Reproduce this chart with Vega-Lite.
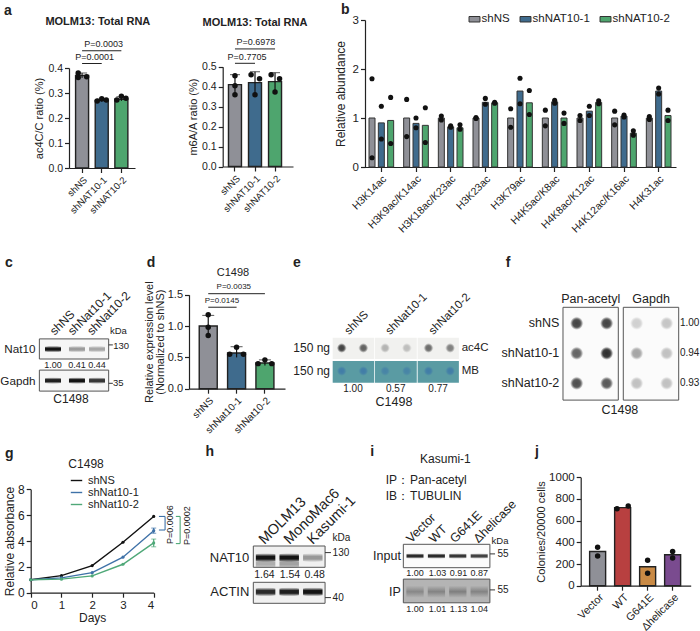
{"$schema":"https://vega.github.io/schema/vega-lite/v6.json","width":700,"height":631,"padding":0,"autosize":{"type":"none"},"background":"white",
"config":{"view":{"stroke":null},"font":"Liberation Sans","axis":{"grid":false,"domainColor":"#222","tickColor":"#222","labelColor":"#222","titleColor":"#222","titleFontWeight":"normal","domainWidth":1.2,"tickWidth":1.2,"tickSize":4.5,"labelPadding":2,"titlePadding":3},"text":{"color":"#222"}},
"resolve":{"scale":{"x":"independent","y":"independent","xOffset":"independent","fill":"independent","color":"independent"},"axis":{"x":"independent","y":"independent"},"legend":{"fill":"independent","color":"independent"}},
"layer":[
{"data":{"values":[
{"k":"bar","cat":"shNS","v":0.37},{"k":"bar","cat":"shNAT10-1","v":0.27},{"k":"bar","cat":"shNAT10-2","v":0.275},
{"k":"err","cat":"shNS","v":0.36,"v2":0.38},{"k":"err","cat":"shNAT10-1","v":0.265,"v2":0.275},{"k":"err","cat":"shNAT10-2","v":0.268,"v2":0.285},
{"k":"dot","cat":"shNS","v":0.38,"j":-0.6},{"k":"dot","cat":"shNS","v":0.362,"j":-0.6},{"k":"dot","cat":"shNS","v":0.365,"j":0.7},
{"k":"dot","cat":"shNAT10-1","v":0.268,"j":-0.7},{"k":"dot","cat":"shNAT10-1","v":0.277,"j":0},{"k":"dot","cat":"shNAT10-1","v":0.272,"j":0.7},
{"k":"dot","cat":"shNAT10-2","v":0.272,"j":-0.7},{"k":"dot","cat":"shNAT10-2","v":0.287,"j":0},{"k":"dot","cat":"shNAT10-2","v":0.279,"j":0.7},
{"k":"br","cat":"shNS","cat2":"shNAT10-1","v":0.418},{"k":"br","cat":"shNS","cat2":"shNAT10-2","v":0.469},
{"k":"p","cat":"shNAT10-1","j":-1.08,"v":0.444,"t":"P=0.0001"},{"k":"p","cat":"shNAT10-1","j":0.3,"v":0.496,"t":"P=0.0003"},
{"k":"title","cat":"shNAT10-1","j":-0.6,"v":0.584,"t":"MOLM13: Total RNA"},{"k":"let","cat":"shNS","j":-11.4,"v":0.63,"t":"a"}]},
"encoding":{"x":{"field":"cat","type":"nominal","sort":null,"title":null,"scale":{"domain":["shNS","shNAT10-1","shNAT10-2"],"range":[69,135],"paddingInner":0.34,"paddingOuter":0.35,"align":0.48},"axis":{"orient":"bottom","labelAngle":-45,"offset":-463,"labelFontSize":9.5}},
"y":{"field":"v","type":"quantitative","title":"ac4C/C ratio (%)","scale":{"domain":[0,0.4],"range":[168,68]},"axis":{"orient":"left","offset":-69,"values":[0,0.1,0.2,0.3,0.4],"format":".1f","labelFontSize":10.5,"titleFontSize":11}}},
"layer":[
{"transform":[{"filter":"datum.k=='bar'"}],"mark":{"type":"bar","width":13,"stroke":"#222","strokeWidth":1.4},"encoding":{"fill":{"field":"cat","type":"nominal","scale":{"domain":["shNS","shNAT10-1","shNAT10-2"],"range":["#8f9097","#3f6b8d","#4ea56e"]},"legend":null}}},
{"transform":[{"filter":"datum.k=='err'"}],"mark":{"type":"rule","color":"#111"},"encoding":{"y2":{"field":"v2"}}},
{"transform":[{"filter":"datum.k=='err'"}],"mark":{"type":"tick","orient":"horizontal","width":10,"color":"#111"},"encoding":{"y":{"field":"v2","type":"quantitative"}}},
{"transform":[{"filter":"datum.k=='dot'"}],"mark":{"type":"point","filled":true,"color":"#111","opacity":1,"size":30},"encoding":{"xOffset":{"field":"j","type":"quantitative","scale":{"domain":[-1,1],"range":[0,13]}}}},
{"transform":[{"filter":"datum.k=='br'"}],"mark":{"type":"rule","color":"#222","strokeWidth":1},"encoding":{"x2":{"field":"cat2"}}},
{"transform":[{"filter":"datum.k=='p'"}],"mark":{"type":"text","fontSize":9},"encoding":{"text":{"field":"t"},"xOffset":{"field":"j","type":"quantitative","scale":{"domain":[-1,1],"range":[0,13]}}}},
{"transform":[{"filter":"datum.k=='title'"}],"mark":{"type":"text","fontSize":11,"fontWeight":"bold"},"encoding":{"text":{"field":"t"},"xOffset":{"field":"j","type":"quantitative","scale":{"domain":[-1,1],"range":[0,13]}}}},
{"transform":[{"filter":"datum.k=='let'"}],"mark":{"type":"text","fontSize":14,"fontWeight":"bold"},"encoding":{"text":{"field":"t"},"xOffset":{"field":"j","type":"quantitative","scale":{"domain":[-1,1],"range":[0,13]}}}}
]},
{"data":{"values":[
{"k":"bar","cat":"shNS","v":0.41},{"k":"bar","cat":"shNAT10-1","v":0.42},{"k":"bar","cat":"shNAT10-2","v":0.425},
{"k":"err","cat":"shNS","v":0.36,"v2":0.46},{"k":"err","cat":"shNAT10-1","v":0.365,"v2":0.475},{"k":"err","cat":"shNAT10-2","v":0.375,"v2":0.47},
{"k":"dot","cat":"shNS","v":0.455,"j":0},{"k":"dot","cat":"shNS","v":0.405,"j":0},{"k":"dot","cat":"shNS","v":0.36,"j":0},
{"k":"dot","cat":"shNAT10-1","v":0.46,"j":-0.6},{"k":"dot","cat":"shNAT10-1","v":0.44,"j":0.7},{"k":"dot","cat":"shNAT10-1","v":0.36,"j":0},
{"k":"dot","cat":"shNAT10-2","v":0.46,"j":-0.6},{"k":"dot","cat":"shNAT10-2","v":0.44,"j":0.7},{"k":"dot","cat":"shNAT10-2","v":0.373,"j":0},
{"k":"br","cat":"shNS","cat2":"shNAT10-1","v":0.517},{"k":"br","cat":"shNS","cat2":"shNAT10-2","v":0.589},
{"k":"p","cat":"shNAT10-1","j":-1.23,"v":0.549,"t":"P=0.7705"},{"k":"p","cat":"shNAT10-1","j":0.15,"v":0.622,"t":"P=0.6978"},
{"k":"title","cat":"shNAT10-1","j":0,"v":0.719,"t":"MOLM13: Total RNA"}]},
"encoding":{"x":{"field":"cat","type":"nominal","sort":null,"title":null,"scale":{"domain":["shNS","shNAT10-1","shNAT10-2"],"range":[222.7,293],"paddingInner":0.35,"paddingOuter":0.43,"align":0.335},"axis":{"orient":"bottom","labelAngle":-45,"offset":-464.5,"labelFontSize":9.5}},
"y":{"field":"v","type":"quantitative","title":"m6A/A ratio (%)","scale":{"domain":[0,0.5],"range":[166.5,66.7]},"axis":{"orient":"left","offset":-222.7,"values":[0,0.1,0.2,0.3,0.4,0.5],"format":".1f","labelFontSize":10.5,"titleFontSize":11}}},
"layer":[
{"transform":[{"filter":"datum.k=='bar'"}],"mark":{"type":"bar","width":13,"stroke":"#222","strokeWidth":1.4},"encoding":{"fill":{"field":"cat","type":"nominal","scale":{"domain":["shNS","shNAT10-1","shNAT10-2"],"range":["#8f9097","#3f6b8d","#4ea56e"]},"legend":null}}},
{"transform":[{"filter":"datum.k=='err'"}],"mark":{"type":"rule","color":"#111","strokeWidth":1.2},"encoding":{"y2":{"field":"v2"}}},
{"transform":[{"filter":"datum.k=='err'"}],"mark":{"type":"tick","orient":"horizontal","width":10,"color":"#111"},"encoding":{"y":{"field":"v2","type":"quantitative"}}},
{"transform":[{"filter":"datum.k=='dot'"}],"mark":{"type":"point","filled":true,"color":"#111","opacity":1,"size":30},"encoding":{"xOffset":{"field":"j","type":"quantitative","scale":{"domain":[-1,1],"range":[0,13]}}}},
{"transform":[{"filter":"datum.k=='br'"}],"mark":{"type":"rule","color":"#222","strokeWidth":1},"encoding":{"x2":{"field":"cat2"}}},
{"transform":[{"filter":"datum.k=='p'"}],"mark":{"type":"text","fontSize":9},"encoding":{"text":{"field":"t"},"xOffset":{"field":"j","type":"quantitative","scale":{"domain":[-1,1],"range":[0,13]}}}},
{"transform":[{"filter":"datum.k=='title'"}],"mark":{"type":"text","fontSize":11,"fontWeight":"bold"},"encoding":{"text":{"field":"t"},"xOffset":{"field":"j","type":"quantitative","scale":{"domain":[-1,1],"range":[0,13]}}}}
]},
{"data":{"values":[
{"k":"bar","g":"H3K14ac","s":"shNS","v":1.0},{"k":"bar","g":"H3K14ac","s":"shNAT10-1","v":0.9},{"k":"bar","g":"H3K14ac","s":"shNAT10-2","v":0.95},
{"k":"bar","g":"H3K9ac/K14ac","s":"shNS","v":1.0},{"k":"bar","g":"H3K9ac/K14ac","s":"shNAT10-1","v":0.89},{"k":"bar","g":"H3K9ac/K14ac","s":"shNAT10-2","v":0.85},
{"k":"bar","g":"H3K18ac/K23ac","s":"shNS","v":1.0},{"k":"bar","g":"H3K18ac/K23ac","s":"shNAT10-1","v":0.82},{"k":"bar","g":"H3K18ac/K23ac","s":"shNAT10-2","v":0.8},
{"k":"bar","g":"H3K23ac","s":"shNS","v":1.0},{"k":"bar","g":"H3K23ac","s":"shNAT10-1","v":1.32},{"k":"bar","g":"H3K23ac","s":"shNAT10-2","v":1.31},
{"k":"bar","g":"H3K79ac","s":"shNS","v":1.0},{"k":"bar","g":"H3K79ac","s":"shNAT10-1","v":1.55},{"k":"bar","g":"H3K79ac","s":"shNAT10-2","v":1.31},
{"k":"bar","g":"H4K5ac/K8ac","s":"shNS","v":1.0},{"k":"bar","g":"H4K5ac/K8ac","s":"shNAT10-1","v":1.33},{"k":"bar","g":"H4K5ac/K8ac","s":"shNAT10-2","v":1.0},
{"k":"bar","g":"H4K8ac/K12ac","s":"shNS","v":1.0},{"k":"bar","g":"H4K8ac/K12ac","s":"shNAT10-1","v":1.14},{"k":"bar","g":"H4K8ac/K12ac","s":"shNAT10-2","v":1.32},
{"k":"bar","g":"H4K12ac/K16ac","s":"shNS","v":1.0},{"k":"bar","g":"H4K12ac/K16ac","s":"shNAT10-1","v":1.04},{"k":"bar","g":"H4K12ac/K16ac","s":"shNAT10-2","v":0.69},
{"k":"bar","g":"H4K31ac","s":"shNS","v":1.0},{"k":"bar","g":"H4K31ac","s":"shNAT10-1","v":1.55},{"k":"bar","g":"H4K31ac","s":"shNAT10-2","v":1.05},
{"k":"dot","g":"H3K14ac","s":"shNS","v":1.8},{"k":"dot","g":"H3K14ac","s":"shNS","v":0.19},{"k":"dot","g":"H3K14ac","s":"shNAT10-1","v":1.24},{"k":"dot","g":"H3K14ac","s":"shNAT10-1","v":0.57},{"k":"dot","g":"H3K14ac","s":"shNAT10-2","v":1.42},{"k":"dot","g":"H3K14ac","s":"shNAT10-2","v":0.48},
{"k":"dot","g":"H3K9ac/K14ac","s":"shNS","v":1.38},{"k":"dot","g":"H3K9ac/K14ac","s":"shNS","v":0.62},{"k":"dot","g":"H3K9ac/K14ac","s":"shNAT10-1","v":1.0},{"k":"dot","g":"H3K9ac/K14ac","s":"shNAT10-1","v":0.8},{"k":"dot","g":"H3K9ac/K14ac","s":"shNAT10-2","v":1.21},{"k":"dot","g":"H3K9ac/K14ac","s":"shNAT10-2","v":0.5},
{"k":"dot","g":"H3K18ac/K23ac","s":"shNS","v":1.04},{"k":"dot","g":"H3K18ac/K23ac","s":"shNS","v":0.96},{"k":"dot","g":"H3K18ac/K23ac","s":"shNAT10-1","v":0.84},{"k":"dot","g":"H3K18ac/K23ac","s":"shNAT10-1","v":0.81},{"k":"dot","g":"H3K18ac/K23ac","s":"shNAT10-2","v":0.86},{"k":"dot","g":"H3K18ac/K23ac","s":"shNAT10-2","v":0.77},
{"k":"dot","g":"H3K23ac","s":"shNS","v":1.01},{"k":"dot","g":"H3K23ac","s":"shNS","v":0.99},{"k":"dot","g":"H3K23ac","s":"shNAT10-1","v":1.4},{"k":"dot","g":"H3K23ac","s":"shNAT10-1","v":1.28},{"k":"dot","g":"H3K23ac","s":"shNAT10-2","v":1.32},{"k":"dot","g":"H3K23ac","s":"shNAT10-2","v":1.3},
{"k":"dot","g":"H3K79ac","s":"shNS","v":1.19},{"k":"dot","g":"H3K79ac","s":"shNS","v":0.81},{"k":"dot","g":"H3K79ac","s":"shNAT10-1","v":1.81},{"k":"dot","g":"H3K79ac","s":"shNAT10-1","v":1.29},{"k":"dot","g":"H3K79ac","s":"shNAT10-2","v":1.56},{"k":"dot","g":"H3K79ac","s":"shNAT10-2","v":1.07},
{"k":"dot","g":"H4K5ac/K8ac","s":"shNS","v":1.16},{"k":"dot","g":"H4K5ac/K8ac","s":"shNS","v":0.84},{"k":"dot","g":"H4K5ac/K8ac","s":"shNAT10-1","v":1.36},{"k":"dot","g":"H4K5ac/K8ac","s":"shNAT10-1","v":1.3},{"k":"dot","g":"H4K5ac/K8ac","s":"shNAT10-2","v":1.1},{"k":"dot","g":"H4K5ac/K8ac","s":"shNAT10-2","v":0.89},
{"k":"dot","g":"H4K8ac/K12ac","s":"shNS","v":1.05},{"k":"dot","g":"H4K8ac/K12ac","s":"shNS","v":0.95},{"k":"dot","g":"H4K8ac/K12ac","s":"shNAT10-1","v":1.24},{"k":"dot","g":"H4K8ac/K12ac","s":"shNAT10-1","v":1.05},{"k":"dot","g":"H4K8ac/K12ac","s":"shNAT10-2","v":1.35},{"k":"dot","g":"H4K8ac/K12ac","s":"shNAT10-2","v":1.29},
{"k":"dot","g":"H4K12ac/K16ac","s":"shNS","v":1.14},{"k":"dot","g":"H4K12ac/K16ac","s":"shNS","v":0.86},{"k":"dot","g":"H4K12ac/K16ac","s":"shNAT10-1","v":1.06},{"k":"dot","g":"H4K12ac/K16ac","s":"shNAT10-1","v":1.02},{"k":"dot","g":"H4K12ac/K16ac","s":"shNAT10-2","v":0.74},{"k":"dot","g":"H4K12ac/K16ac","s":"shNAT10-2","v":0.65},
{"k":"dot","g":"H4K31ac","s":"shNS","v":1.03},{"k":"dot","g":"H4K31ac","s":"shNS","v":0.97},{"k":"dot","g":"H4K31ac","s":"shNAT10-1","v":1.61},{"k":"dot","g":"H4K31ac","s":"shNAT10-1","v":1.49},{"k":"dot","g":"H4K31ac","s":"shNAT10-2","v":1.16},{"k":"dot","g":"H4K31ac","s":"shNAT10-2","v":0.95},
{"k":"let","g":"H3K14ac","v":3.2,"t":"b"}]},
"encoding":{"x":{"field":"g","type":"nominal","sort":null,"title":null,"scale":{"domain":["H3K14ac","H3K9ac/K14ac","H3K18ac/K23ac","H3K23ac","H3K79ac","H4K5ac/K8ac","H4K8ac/K12ac","H4K12ac/K16ac","H4K31ac"],"range":[364,676],"paddingInner":0,"paddingOuter":0},"axis":{"orient":"bottom","labelAngle":-45,"offset":-464,"labelFontSize":10.5}},
"y":{"field":"v","type":"quantitative","title":"Relative abundance","scale":{"domain":[0,3],"range":[167,20]},"axis":{"orient":"left","offset":-365,"values":[0,1,2,3],"labelFontSize":11.5,"titleFontSize":12,"titlePadding":5}}},
"layer":[
{"transform":[{"filter":"datum.k=='bar'"}],"mark":{"type":"bar","width":6,"stroke":"#333","strokeWidth":1},"encoding":{"xOffset":{"field":"s","type":"nominal","scale":{"domain":["shNS","shNAT10-1","shNAT10-2"],"range":[0,34.67],"paddingInner":0.357,"paddingOuter":0.536}},"fill":{"field":"s","type":"nominal","scale":{"domain":["shNS","shNAT10-1","shNAT10-2"],"range":["#8f9097","#3f6b8d","#4ea56e"]},"legend":{"title":null,"orient":"none","legendX":468.5,"legendY":13,"direction":"horizontal","columns":3,"symbolType":"M-1,-.5H1V.5H-1Z","symbolSize":120,"symbolStrokeColor":"#333","symbolStrokeWidth":1,"labelFontSize":11.5,"labelColor":"#222","columnPadding":7,"labelOffset":1}}}},
{"transform":[{"filter":"datum.k=='dot'"}],"mark":{"type":"point","filled":true,"color":"#111","opacity":1,"size":26},"encoding":{"xOffset":{"field":"s","type":"nominal","scale":{"domain":["shNS","shNAT10-1","shNAT10-2"],"range":[0,34.67],"paddingInner":0.357,"paddingOuter":0.536}}}},
{"transform":[{"filter":"datum.k=='let'"}],"mark":{"type":"text","fontSize":14,"fontWeight":"bold","dx":-36},"encoding":{"text":{"field":"t"}}}
]},
{"data":{"values":[
{"k":"bar","cat":"shNS","v":1.0},{"k":"bar","cat":"shNat10-1","v":0.57},{"k":"bar","cat":"shNat10-2","v":0.41},
{"k":"err","cat":"shNS","v":0.86,"v2":1.17},{"k":"err","cat":"shNat10-1","v":0.5,"v2":0.67},{"k":"err","cat":"shNat10-2","v":0.37,"v2":0.46},
{"k":"dot","cat":"shNS","v":1.18,"j":0},{"k":"dot","cat":"shNS","v":0.98,"j":0},{"k":"dot","cat":"shNS","v":0.85,"j":0},
{"k":"dot","cat":"shNat10-1","v":0.66,"j":0},{"k":"dot","cat":"shNat10-1","v":0.55,"j":-0.75},{"k":"dot","cat":"shNat10-1","v":0.55,"j":0.75},
{"k":"dot","cat":"shNat10-2","v":0.46,"j":0},{"k":"dot","cat":"shNat10-2","v":0.4,"j":-0.75},{"k":"dot","cat":"shNat10-2","v":0.4,"j":0.75},
{"k":"br","cat":"shNS","cat2":"shNat10-1","v":1.3},{"k":"br","cat":"shNS","cat2":"shNat10-2","v":1.516},
{"k":"p","cat":"shNat10-1","j":-1.6,"v":1.4,"t":"P=0.0145"},{"k":"p","cat":"shNat10-1","j":-0.3,"v":1.62,"t":"P=0.0035"},
{"k":"title","cat":"shNat10-1","j":-0.4,"v":1.84,"t":"C1498"},{"k":"let","cat":"shNS","j":-6.26,"v":2.0,"t":"d"}]},
"encoding":{"x":{"field":"cat","type":"nominal","sort":null,"title":null,"scale":{"domain":["shNS","shNat10-1","shNat10-2"],"range":[189,285],"paddingInner":0.353,"paddingOuter":0.37,"align":0.48},"axis":{"orient":"bottom","labelAngle":-45,"offset":-242.3,"labelFontSize":10}},
"y":{"field":"v","type":"quantitative","title":["Relative expression level","(Normalized to shNS)"],"scale":{"domain":[0,1.5],"range":[388.7,294.7]},"axis":{"orient":"left","offset":-189,"values":[0,0.5,1,1.5],"format":".1f","labelFontSize":11,"titleFontSize":11,"titleLineHeight":11,"titlePadding":2}}},
"layer":[
{"transform":[{"filter":"datum.k=='bar'"}],"mark":{"type":"bar","width":18,"stroke":"#222","strokeWidth":1.4},"encoding":{"fill":{"field":"cat","type":"nominal","scale":{"domain":["shNS","shNat10-1","shNat10-2"],"range":["#8f9097","#3f6b8d","#4ea56e"]},"legend":null}}},
{"transform":[{"filter":"datum.k=='err'"}],"mark":{"type":"rule","color":"#111","strokeWidth":1.2},"encoding":{"y2":{"field":"v2"}}},
{"transform":[{"filter":"datum.k=='err'"}],"mark":{"type":"tick","orient":"horizontal","width":12,"color":"#111"},"encoding":{"y":{"field":"v2","type":"quantitative"}}},
{"transform":[{"filter":"datum.k=='dot'"}],"mark":{"type":"point","filled":true,"color":"#111","opacity":1,"size":30},"encoding":{"xOffset":{"field":"j","type":"quantitative","scale":{"domain":[-1,1],"range":[0,18.3]}}}},
{"transform":[{"filter":"datum.k=='br'"}],"mark":{"type":"rule","color":"#222","strokeWidth":1},"encoding":{"x2":{"field":"cat2"}}},
{"transform":[{"filter":"datum.k=='p'"}],"mark":{"type":"text","fontSize":8},"encoding":{"text":{"field":"t"},"xOffset":{"field":"j","type":"quantitative","scale":{"domain":[-1,1],"range":[0,18.3]}}}},
{"transform":[{"filter":"datum.k=='title'"}],"mark":{"type":"text","fontSize":11},"encoding":{"text":{"field":"t"},"xOffset":{"field":"j","type":"quantitative","scale":{"domain":[-1,1],"range":[0,18.3]}}}},
{"transform":[{"filter":"datum.k=='let'"}],"mark":{"type":"text","fontSize":14,"fontWeight":"bold"},"encoding":{"text":{"field":"t"},"xOffset":{"field":"j","type":"quantitative","scale":{"domain":[-1,1],"range":[0,18.3]}}}}
]},
{"data":{"values":[
{"k":"bar","cat":"Vector","v":315},{"k":"bar","cat":"WT","v":720},{"k":"bar","cat":"G641E","v":175},{"k":"bar","cat":"Δhelicase","v":285},
{"k":"dot","cat":"Vector","v":355,"j":0},{"k":"dot","cat":"Vector","v":275,"j":0},{"k":"dot","cat":"WT","v":710,"j":-0.7},{"k":"dot","cat":"WT","v":735,"j":0.7},
{"k":"dot","cat":"G641E","v":235,"j":0},{"k":"dot","cat":"G641E","v":115,"j":0},{"k":"dot","cat":"Δhelicase","v":315,"j":0},{"k":"dot","cat":"Δhelicase","v":255,"j":0},
{"k":"let","cat":"Vector","j":-7.6,"v":1233,"t":"j"}]},
"encoding":{"x":{"field":"cat","type":"nominal","sort":null,"title":null,"scale":{"domain":["Vector","WT","G641E","Δhelicase"],"range":[580.7,690.7],"paddingInner":0.36,"paddingOuter":0.38,"align":0.47},"axis":{"orient":"bottom","labelAngle":-45,"offset":-45.3,"labelFontSize":10.8,"labelPadding":1}},
"y":{"field":"v","type":"quantitative","title":"Colonies/20000 cells","scale":{"domain":[0,1000],"range":[585.7,477.3]},"axis":{"orient":"left","offset":-580.7,"values":[0,200,400,600,800,1000],"format":"d","labelFontSize":11.5,"titleFontSize":11,"titlePadding":2}}},
"layer":[
{"transform":[{"filter":"datum.k=='bar'"}],"mark":{"type":"bar","width":16,"stroke":"#222","strokeWidth":1.4},"encoding":{"fill":{"field":"cat","type":"nominal","scale":{"domain":["Vector","WT","G641E","Δhelicase"],"range":["#8f9097","#b84040","#c98a45","#7a4b8f"]},"legend":null}}},
{"transform":[{"filter":"datum.k=='dot'"}],"mark":{"type":"point","filled":true,"color":"#111","opacity":1,"size":30},"encoding":{"xOffset":{"field":"j","type":"quantitative","scale":{"domain":[-1,1],"range":[0,16]}}}},
{"transform":[{"filter":"datum.k=='let'"}],"mark":{"type":"text","fontSize":14,"fontWeight":"bold"},"encoding":{"text":{"field":"t"},"xOffset":{"field":"j","type":"quantitative","scale":{"domain":[-1,1],"range":[0,16]}}}}
]},
{"data":{"values":[
{"k":"l","s":"shNS","x":0,"y":1},{"k":"l","s":"shNS","x":1,"y":1.32},{"k":"l","s":"shNS","x":2,"y":2.1},{"k":"l","s":"shNS","x":3,"y":3.9},{"k":"l","s":"shNS","x":4,"y":5.9},
{"k":"l","s":"shNat10-1","x":0,"y":1},{"k":"l","s":"shNat10-1","x":1,"y":1.15},{"k":"l","s":"shNat10-1","x":2,"y":1.55},{"k":"l","s":"shNat10-1","x":3,"y":2.75},{"k":"l","s":"shNat10-1","x":4,"y":4.8},
{"k":"l","s":"shNat10-2","x":0,"y":1},{"k":"l","s":"shNat10-2","x":1,"y":1.05},{"k":"l","s":"shNat10-2","x":2,"y":1.3},{"k":"l","s":"shNat10-2","x":3,"y":2.2},{"k":"l","s":"shNat10-2","x":4,"y":3.85},
{"k":"e","s":"shNat10-1","x":4,"y":4.6,"y2":5.0},{"k":"e","s":"shNat10-2","x":4,"y":3.55,"y2":4.15},
{"k":"r","s":"shNat10-1","x":4.37,"y":4.85,"y2":5.9},{"k":"r","s":"shNat10-1","x":4.17,"x2":4.37,"y":5.9},{"k":"r","s":"shNat10-1","x":4.17,"x2":4.37,"y":4.85},
{"k":"r","s":"shNat10-2","x":4.86,"y":3.8,"y2":5.9},{"k":"r","s":"shNat10-2","x":4.72,"x2":4.86,"y":5.9},{"k":"r","s":"shNat10-2","x":4.72,"x2":4.86,"y":3.8},
{"k":"p","x":4.52,"y":5.26,"t":"P=0.0006"},{"k":"p","x":5.07,"y":5.19,"t":"P=0.0002"},
{"k":"title","x":1.8,"y":9.96,"t":"C1498"},{"k":"let","x":-0.7,"y":10.73,"t":"g"}]},
"encoding":{"x":{"field":"x","type":"quantitative","title":"Days","scale":{"domain":[0,4],"range":[30.7,153.7]},"axis":{"orient":"bottom","offset":-38.3,"values":[0,1,2,3,4],"labelFontSize":11.5,"titleFontSize":12,"titlePadding":2,"labelAngle":0}},
"y":{"field":"y","type":"quantitative","title":"Relative absorbance","scale":{"domain":[0,8],"range":[592.7,489.3]},"axis":{"orient":"left","offset":-30.7,"values":[0,2,4,6,8],"labelFontSize":12,"titleFontSize":12,"titlePadding":1}}},
"layer":[
{"transform":[{"filter":"datum.k=='l'"}],"mark":{"type":"line","strokeWidth":1.4},"encoding":{"color":{"field":"s","type":"nominal","scale":{"domain":["shNS","shNat10-1","shNat10-2"],"range":["#111","#3f72a8","#4fa878"]},"legend":{"title":null,"orient":"none","legendX":70,"legendY":474,"symbolType":"stroke","symbolSize":130,"symbolStrokeWidth":1.4,"labelFontSize":11,"labelColor":"#222","rowPadding":0,"labelOffset":5}}}},
{"transform":[{"filter":"datum.k=='l'"}],"mark":{"type":"point","filled":true,"opacity":1,"size":10},"encoding":{"color":{"field":"s","type":"nominal"}}},
{"transform":[{"filter":"datum.k=='e'"}],"mark":{"type":"rule","strokeWidth":1.2},"encoding":{"y2":{"field":"y2"},"color":{"field":"s","type":"nominal"}}},
{"transform":[{"filter":"datum.k=='e'"}],"mark":{"type":"tick","orient":"horizontal","width":5,"thickness":1},"encoding":{"color":{"field":"s","type":"nominal"}}},
{"transform":[{"filter":"datum.k=='e'"}],"mark":{"type":"tick","orient":"horizontal","width":5,"thickness":1},"encoding":{"y":{"field":"y2","type":"quantitative"},"color":{"field":"s","type":"nominal"}}},
{"transform":[{"filter":"datum.k=='r'"}],"mark":{"type":"rule","strokeWidth":1.1},"encoding":{"x2":{"field":"x2"},"y2":{"field":"y2"},"color":{"field":"s","type":"nominal"}}},
{"transform":[{"filter":"datum.k=='p'"}],"mark":{"type":"text","fontSize":9,"angle":270},"encoding":{"text":{"field":"t"}}},
{"transform":[{"filter":"datum.k=='title'"}],"mark":{"type":"text","fontSize":12},"encoding":{"text":{"field":"t"}}},
{"transform":[{"filter":"datum.k=='let'"}],"mark":{"type":"text","fontSize":14,"fontWeight":"bold"},"encoding":{"text":{"field":"t"}}}
]},
{"data":{"values":[
{"k":"box","x":0.38,"x2":3.53,"y":0.63,"y2":1.3},{"k":"box","x":0.38,"x2":3.53,"y":1.67,"y2":2.37},
{"k":"band","x":1,"y":0.97,"o":1},{"k":"band","x":2.09,"y":0.97,"o":0.4},{"k":"band","x":3,"y":0.97,"o":0.35},
{"k":"band","x":1,"y":2.02,"o":0.95},{"k":"band","x":2.09,"y":2.02,"o":1},{"k":"band","x":3,"y":2.02,"o":0.85},
{"k":"tk","x":3.53,"x2":3.72,"y":0.83},{"k":"tk","x":3.53,"x2":3.72,"y":2.11},
{"k":"r","x":0.2,"y":0.97,"t":"Nat10"},{"k":"r","x":0.2,"y":2.02,"t":"Gapdh"},
{"k":"n","x":1,"y":1.49,"t":"1.00"},{"k":"n","x":2.09,"y":1.49,"t":"0.41"},{"k":"n","x":3,"y":1.49,"t":"0.44"},
{"k":"m","x":1.82,"y":2.63,"t":"C1498"},
{"k":"s","x":3.97,"y":0.37,"t":"kDa"},{"k":"s","x":4.1,"y":0.87,"t":"130"},{"k":"s","x":3.97,"y":2.1,"t":"35"},
{"k":"rot","x":0.95,"y":0.43,"t":"shNS"},{"k":"rot","x":1.77,"y":0.43,"t":"shNat10-1"},{"k":"rot","x":2.64,"y":0.43,"t":"shNat10-2"},
{"k":"let","x":-1,"y":-1.9,"t":"c"}]},
"encoding":{"x":{"field":"x","type":"quantitative","axis":null,"scale":{"domain":[0,4],"range":[31,119]}},"y":{"field":"y","type":"quantitative","axis":null,"scale":{"domain":[0,3],"range":[320,410]}}},
"layer":[
{"transform":[{"filter":"datum.k=='box'"}],"mark":{"type":"rect","fill":"#f6f6f6","stroke":"#555","strokeWidth":1},"encoding":{"x2":{"field":"x2"},"y2":{"field":"y2"}}},
{"transform":[{"filter":"datum.k=='band'"}],"mark":{"type":"point","filled":true,"shape":"M-1,-.3C-.4,-.45 .4,-.45 1,-.3L1,.3C.4,.45 -.4,.45 -1,.3Z","size":256,"fill":{"gradient":"linear","x1":0,"y1":0,"x2":0,"y2":1,"stops":[{"offset":0,"color":"rgba(20,20,20,0)"},{"offset":0.35,"color":"#141414"},{"offset":0.65,"color":"#141414"},{"offset":1,"color":"rgba(20,20,20,0)"}]}},"encoding":{"opacity":{"field":"o","type":"quantitative","scale":{"domain":[0,1],"range":[0,1]},"legend":null}}},
{"transform":[{"filter":"datum.k=='tk'"}],"mark":{"type":"rule","color":"#333"},"encoding":{"x2":{"field":"x2"}}},
{"transform":[{"filter":"datum.k=='r'"}],"mark":{"type":"text","fontSize":11.7,"align":"right"},"encoding":{"text":{"field":"t"}}},
{"transform":[{"filter":"datum.k=='n'"}],"mark":{"type":"text","fontSize":9},"encoding":{"text":{"field":"t"}}},
{"transform":[{"filter":"datum.k=='m'"}],"mark":{"type":"text","fontSize":12},"encoding":{"text":{"field":"t"}}},
{"transform":[{"filter":"datum.k=='s'"}],"mark":{"type":"text","fontSize":9.5},"encoding":{"text":{"field":"t"}}},
{"transform":[{"filter":"datum.k=='rot'"}],"mark":{"type":"text","fontSize":12,"angle":315,"align":"left"},"encoding":{"text":{"field":"t"}}},
{"transform":[{"filter":"datum.k=='let'"}],"mark":{"type":"text","fontSize":14,"fontWeight":"bold"},"encoding":{"text":{"field":"t"}}}
]},
{"data":{"values":[
{"k":"strip","x":0.585,"x2":2.5,"y":0.55,"y2":1.48},{"k":"strip","x":2.535,"x2":4.46,"y":0.55,"y2":1.48},{"k":"strip","x":4.5,"x2":6.4,"y":0.55,"y2":1.48},
{"k":"mb","x":0.585,"x2":2.5,"y":1.565,"y2":2.51},{"k":"mb","x":2.535,"x2":4.46,"y":1.565,"y2":2.51},{"k":"mb","x":4.5,"x2":6.4,"y":1.565,"y2":2.51},
{"k":"dot","x":1,"y":1,"o":0.85},{"k":"dot","x":2,"y":1,"o":0.7},{"k":"dot","x":3,"y":1,"o":0.3},{"k":"dot","x":4,"y":1,"o":0.25},{"k":"dot","x":5,"y":1,"o":0.65},{"k":"dot","x":6,"y":1,"o":0.55},
{"k":"md","x":1,"y":2,"o":0.8},{"k":"md","x":2,"y":2,"o":0.8},{"k":"md","x":3,"y":2,"o":0.6},{"k":"md","x":4,"y":2,"o":0.6},{"k":"md","x":5,"y":2,"o":0.8},{"k":"md","x":6,"y":2,"o":0.8},
{"k":"r","x":0.46,"y":1,"t":"150 ng"},{"k":"r","x":0.46,"y":2,"t":"150 ng"},
{"k":"l","x":6.53,"y":1,"t":"ac4C"},{"k":"l","x":6.53,"y":2,"t":"MB"},
{"k":"n","x":1.52,"y":2.78,"t":"1.00"},{"k":"n","x":3.49,"y":2.78,"t":"0.57"},{"k":"n","x":5.44,"y":2.78,"t":"0.77"},
{"k":"m","x":3.41,"y":3.35,"t":"C1498"},
{"k":"rot","x":1.24,"y":0.35,"t":"shNS"},{"k":"rot","x":3.13,"y":0.35,"t":"shNat10-1"},{"k":"rot","x":5.12,"y":0.35,"t":"shNat10-2"},
{"k":"let","x":-1.06,"y":-2.7,"t":"e"}]},
"encoding":{"x":{"field":"x","type":"quantitative","axis":null,"scale":{"domain":[0,6],"range":[320,450.2]}},"y":{"field":"y","type":"quantitative","axis":null,"scale":{"domain":[0,3],"range":[325,394]}}},
"layer":[
{"transform":[{"filter":"datum.k=='strip'"}],"mark":{"type":"rect","fill":"#f1f1ef"},"encoding":{"x2":{"field":"x2"},"y2":{"field":"y2"}}},
{"transform":[{"filter":"datum.k=='mb'"}],"mark":{"type":"rect","fill":"#5a9ba3"},"encoding":{"x2":{"field":"x2"},"y2":{"field":"y2"}}},
{"transform":[{"filter":"datum.k=='dot'"}],"mark":{"type":"point","filled":true,"size":90,"fill":{"gradient":"radial","x1":0.5,"y1":0.5,"x2":0.5,"y2":0.5,"r1":0,"r2":0.5,"stops":[{"offset":0,"color":"#202020"},{"offset":0.55,"color":"#303030"},{"offset":1,"color":"rgba(40,40,40,0)"}]}},"encoding":{"opacity":{"field":"o","type":"quantitative","scale":{"domain":[0,1],"range":[0,1]},"legend":null}}},
{"transform":[{"filter":"datum.k=='md'"}],"mark":{"type":"point","filled":true,"size":90,"fill":{"gradient":"radial","x1":0.5,"y1":0.5,"x2":0.5,"y2":0.5,"r1":0,"r2":0.5,"stops":[{"offset":0,"color":"#3a74a8"},{"offset":0.55,"color":"#3f7aa8"},{"offset":1,"color":"rgba(63,122,168,0)"}]}},"encoding":{"opacity":{"field":"o","type":"quantitative","scale":{"domain":[0,1],"range":[0,1]},"legend":null}}},
{"transform":[{"filter":"datum.k=='r'"}],"mark":{"type":"text","fontSize":12,"align":"right"},"encoding":{"text":{"field":"t"}}},
{"transform":[{"filter":"datum.k=='l'"}],"mark":{"type":"text","fontSize":11.5,"align":"left"},"encoding":{"text":{"field":"t"}}},
{"transform":[{"filter":"datum.k=='n'"}],"mark":{"type":"text","fontSize":10},"encoding":{"text":{"field":"t"}}},
{"transform":[{"filter":"datum.k=='m'"}],"mark":{"type":"text","fontSize":12.5},"encoding":{"text":{"field":"t"}}},
{"transform":[{"filter":"datum.k=='rot'"}],"mark":{"type":"text","fontSize":11.5,"angle":315,"align":"left"},"encoding":{"text":{"field":"t"}}},
{"transform":[{"filter":"datum.k=='let'"}],"mark":{"type":"text","fontSize":14,"fontWeight":"bold"},"encoding":{"text":{"field":"t"}}}
]},
{"data":{"values":[
{"k":"box","x":0.543,"x2":2.387,"y":0.467,"y2":3.56},{"k":"box","x":2.553,"x2":4.4,"y":0.467,"y2":3.56},
{"k":"dot","x":1,"y":1,"o":0.85},{"k":"dot","x":2,"y":1,"o":0.85},{"k":"dot","x":1,"y":2,"o":0.7},{"k":"dot","x":2,"y":2,"o":0.95},{"k":"dot","x":1,"y":3,"o":0.8},{"k":"dot","x":2,"y":3,"o":0.75},
{"k":"dot","x":3,"y":1,"o":0.2},{"k":"dot","x":4,"y":1,"o":0.25},{"k":"dot","x":3,"y":2,"o":0.4},{"k":"dot","x":4,"y":2,"o":0.27},{"k":"dot","x":3,"y":3,"o":0.27},{"k":"dot","x":4,"y":3,"o":0.27},
{"k":"r","x":0.42,"y":1,"t":"shNS"},{"k":"r","x":0.42,"y":2,"t":"shNat10-1"},{"k":"r","x":0.42,"y":3,"t":"shNat10-2"},
{"k":"m","x":1.47,"y":0.19,"t":"Pan-acetyl"},{"k":"m","x":3.48,"y":0.19,"t":"Gapdh"},{"k":"m","x":2.44,"y":3.89,"t":"C1498"},
{"k":"l","x":4.44,"y":1,"t":"1.00"},{"k":"l","x":4.44,"y":2,"t":"0.94"},{"k":"l","x":4.44,"y":3,"t":"0.93"},
{"k":"let","x":-1.29,"y":-1.01,"t":"f"}]},
"encoding":{"x":{"field":"x","type":"quantitative","axis":null,"scale":{"domain":[0,4],"range":[546.7,666.7]}},"y":{"field":"y","type":"quantitative","axis":null,"scale":{"domain":[0,3],"range":[293.3,383.3]}}},
"layer":[
{"transform":[{"filter":"datum.k=='box'"}],"mark":{"type":"rect","fill":"#fbfbfb","stroke":"#555","strokeWidth":1},"encoding":{"x2":{"field":"x2"},"y2":{"field":"y2"}}},
{"transform":[{"filter":"datum.k=='dot'"}],"mark":{"type":"point","filled":true,"size":170,"fill":{"gradient":"radial","x1":0.5,"y1":0.5,"x2":0.5,"y2":0.5,"r1":0,"r2":0.5,"stops":[{"offset":0,"color":"#202020"},{"offset":0.6,"color":"#303030"},{"offset":1,"color":"rgba(40,40,40,0)"}]}},"encoding":{"opacity":{"field":"o","type":"quantitative","scale":{"domain":[0,1],"range":[0,1]},"legend":null}}},
{"transform":[{"filter":"datum.k=='r'"}],"mark":{"type":"text","fontSize":12.5,"align":"right"},"encoding":{"text":{"field":"t"}}},
{"transform":[{"filter":"datum.k=='m'"}],"mark":{"type":"text","fontSize":12.5},"encoding":{"text":{"field":"t"}}},
{"transform":[{"filter":"datum.k=='l'"}],"mark":{"type":"text","fontSize":10,"align":"left"},"encoding":{"text":{"field":"t"}}},
{"transform":[{"filter":"datum.k=='let'"}],"mark":{"type":"text","fontSize":14,"fontWeight":"bold"},"encoding":{"text":{"field":"t"}}}
]},
{"data":{"values":[
{"k":"box","x":0.48,"x2":3.52,"y":0.61,"y2":1.32},{"k":"box","x":0.48,"x2":3.52,"y":1.82,"y2":2.52},
{"k":"band","x":1,"y":1.2,"o":0.3},{"k":"band","x":2,"y":1.2,"o":0.35},
{"k":"band","x":1,"y":1,"o":1},{"k":"band","x":2,"y":1,"o":1},{"k":"band","x":3,"y":1,"o":0.4},
{"k":"band","x":1,"y":2.14,"o":0.9},{"k":"band","x":2,"y":2.14,"o":0.95},{"k":"band","x":3,"y":2.14,"o":1},
{"k":"tk","x":3.52,"x2":3.77,"y":0.83},{"k":"tk","x":3.52,"x2":3.77,"y":2.33},
{"k":"r","x":0.31,"y":1,"t":"NAT10"},{"k":"r","x":0.31,"y":2.14,"t":"ACTIN"},
{"k":"n","x":0.95,"y":1.58,"t":"1.64"},{"k":"n","x":2.03,"y":1.58,"t":"1.54"},{"k":"n","x":3.08,"y":1.58,"t":"0.48"},
{"k":"l","x":3.84,"y":0.34,"t":"kDa"},{"k":"l","x":3.84,"y":0.83,"t":"130"},{"k":"l","x":3.84,"y":2.33,"t":"40"},
{"k":"rot","x":0.83,"y":0.48,"t":"MOLM13"},{"k":"rot","x":1.89,"y":0.48,"t":"MonoMac6"},{"k":"rot","x":2.88,"y":0.48,"t":"Kasumi-1"},
{"k":"let","x":-1.36,"y":-2.52,"t":"h"}]},
"encoding":{"x":{"field":"x","type":"quantitative","axis":null,"scale":{"domain":[0,4],"range":[242,336.4]}},"y":{"field":"y","type":"quantitative","axis":null,"scale":{"domain":[0,3],"range":[527.7,617.7]}}},
"layer":[
{"transform":[{"filter":"datum.k=='box'"}],"mark":{"type":"rect","fill":"#f0f0f0","stroke":"#555","strokeWidth":1},"encoding":{"x2":{"field":"x2"},"y2":{"field":"y2"}}},
{"transform":[{"filter":"datum.k=='band'"}],"mark":{"type":"point","filled":true,"shape":"M-1,-.35C-.4,-.5 .4,-.5 1,-.35L1,.35C.4,.5 -.4,.5 -1,.35Z","size":380,"fill":{"gradient":"linear","x1":0,"y1":0,"x2":0,"y2":1,"stops":[{"offset":0,"color":"rgba(20,20,20,0)"},{"offset":0.35,"color":"#141414"},{"offset":0.65,"color":"#141414"},{"offset":1,"color":"rgba(20,20,20,0)"}]}},"encoding":{"opacity":{"field":"o","type":"quantitative","scale":{"domain":[0,1],"range":[0,1]},"legend":null}}},
{"transform":[{"filter":"datum.k=='tk'"}],"mark":{"type":"rule","color":"#333"},"encoding":{"x2":{"field":"x2"}}},
{"transform":[{"filter":"datum.k=='r'"}],"mark":{"type":"text","fontSize":13,"align":"right"},"encoding":{"text":{"field":"t"}}},
{"transform":[{"filter":"datum.k=='n'"}],"mark":{"type":"text","fontSize":10.5},"encoding":{"text":{"field":"t"}}},
{"transform":[{"filter":"datum.k=='l'"}],"mark":{"type":"text","fontSize":10,"align":"left"},"encoding":{"text":{"field":"t"}}},
{"transform":[{"filter":"datum.k=='rot'"}],"mark":{"type":"text","fontSize":14.5,"angle":315,"align":"left"},"encoding":{"text":{"field":"t"}}},
{"transform":[{"filter":"datum.k=='let'"}],"mark":{"type":"text","fontSize":14,"fontWeight":"bold"},"encoding":{"text":{"field":"t"}}}
]},
{"data":{"values":[
{"k":"box","x":0.455,"x2":4.5,"y":0.61,"y2":1.39},{"k":"gbox","x":0.455,"x2":4.5,"y":1.77,"y2":2.56},
{"k":"band","x":1,"y":1,"o":0.9},{"k":"band","x":2,"y":1,"o":0.9},{"k":"band","x":3,"y":1,"o":0.85},{"k":"band","x":4,"y":1,"o":0.8},
{"k":"ip","x":1,"y":2.19,"o":0.5},{"k":"ip","x":2,"y":2.19,"o":0.55},{"k":"ip","x":3,"y":2.19,"o":0.6},{"k":"ip","x":4,"y":2.19,"o":0.55},
{"k":"tk","x":4.5,"x2":4.74,"y":0.93},{"k":"tk","x":4.5,"x2":4.74,"y":2.13},
{"k":"r","x":0.34,"y":1,"t":"Input"},{"k":"r","x":0.34,"y":2.19,"t":"IP"},
{"k":"n","x":1,"y":1.58,"t":"1.00"},{"k":"n","x":2.05,"y":1.58,"t":"1.03"},{"k":"n","x":3.03,"y":1.58,"t":"0.91"},{"k":"n","x":4,"y":1.58,"t":"0.87"},
{"k":"n","x":1,"y":2.78,"t":"1.00"},{"k":"n","x":2.05,"y":2.78,"t":"1.01"},{"k":"n","x":3.03,"y":2.78,"t":"1.13"},{"k":"n","x":4,"y":2.78,"t":"1.04"},
{"k":"m","x":2.42,"y":-2.22,"t":"Kasumi-1"},
{"k":"l","x":-0.37,"y":-1.53,"t":"IP："},{"k":"l","x":0.77,"y":-1.53,"t":"Pan-acetyl"},{"k":"l","x":-0.37,"y":-0.99,"t":"IB："},{"k":"l","x":0.77,"y":-0.99,"t":"TUBULIN"},
{"k":"s","x":4.58,"y":0.49,"t":"kDa"},{"k":"c","x":4.85,"y":0.93,"t":"55"},{"k":"c","x":4.85,"y":2.13,"t":"55"},
{"k":"rot","x":0.69,"y":0.49,"t":"Vector"},{"k":"rot","x":1.75,"y":0.49,"t":"WT"},{"k":"rot","x":2.74,"y":0.49,"t":"G641E"},{"k":"rot","x":3.84,"y":0.49,"t":"Δhelicase"},
{"k":"let","x":-1,"y":-2.47,"t":"i"}]},
"encoding":{"x":{"field":"x","type":"quantitative","axis":null,"scale":{"domain":[0,4],"range":[393.6,479.2]}},"y":{"field":"y","type":"quantitative","axis":null,"scale":{"domain":[0,3],"range":[526,616]}}},
"layer":[
{"transform":[{"filter":"datum.k=='box'"}],"mark":{"type":"rect","fill":"#fbfbfb","stroke":"#555","strokeWidth":1},"encoding":{"x2":{"field":"x2"},"y2":{"field":"y2"}}},
{"transform":[{"filter":"datum.k=='gbox'"}],"mark":{"type":"rect","fill":"#b4b4b4","stroke":"#555","strokeWidth":1},"encoding":{"x2":{"field":"x2"},"y2":{"field":"y2"}}},
{"transform":[{"filter":"datum.k=='band'"}],"mark":{"type":"point","filled":true,"shape":"M-1,-.25C-.4,-.35 .4,-.35 1,-.25L1,.25C.4,.35 -.4,.35 -1,.25Z","size":290,"fill":{"gradient":"linear","x1":0,"y1":0,"x2":0,"y2":1,"stops":[{"offset":0,"color":"rgba(20,20,20,0)"},{"offset":0.35,"color":"#141414"},{"offset":0.65,"color":"#141414"},{"offset":1,"color":"rgba(20,20,20,0)"}]}},"encoding":{"opacity":{"field":"o","type":"quantitative","scale":{"domain":[0,1],"range":[0,1]},"legend":null}}},
{"transform":[{"filter":"datum.k=='ip'"}],"mark":{"type":"point","filled":true,"shape":"M-1,-.7L1,-.7L1,.7L-1,.7Z","size":300,"fill":{"gradient":"linear","x1":0,"y1":0,"x2":0,"y2":1,"stops":[{"offset":0,"color":"rgba(90,90,90,0)"},{"offset":0.5,"color":"#5a5a5a"},{"offset":1,"color":"rgba(90,90,90,0)"}]}},"encoding":{"opacity":{"field":"o","type":"quantitative","scale":{"domain":[0,1],"range":[0,1]},"legend":null}}},
{"transform":[{"filter":"datum.k=='tk'"}],"mark":{"type":"rule","color":"#333"},"encoding":{"x2":{"field":"x2"}}},
{"transform":[{"filter":"datum.k=='r'"}],"mark":{"type":"text","fontSize":12.5,"align":"right"},"encoding":{"text":{"field":"t"}}},
{"transform":[{"filter":"datum.k=='n'"}],"mark":{"type":"text","fontSize":9},"encoding":{"text":{"field":"t"}}},
{"transform":[{"filter":"datum.k=='m'"}],"mark":{"type":"text","fontSize":12},"encoding":{"text":{"field":"t"}}},
{"transform":[{"filter":"datum.k=='l'"}],"mark":{"type":"text","fontSize":12,"align":"left"},"encoding":{"text":{"field":"t"}}},
{"transform":[{"filter":"datum.k=='s'"}],"mark":{"type":"text","fontSize":9.5,"align":"left"},"encoding":{"text":{"field":"t"}}},
{"transform":[{"filter":"datum.k=='c'"}],"mark":{"type":"text","fontSize":10,"align":"left"},"encoding":{"text":{"field":"t"}}},
{"transform":[{"filter":"datum.k=='rot'"}],"mark":{"type":"text","fontSize":12.5,"angle":315,"align":"left"},"encoding":{"text":{"field":"t"}}},
{"transform":[{"filter":"datum.k=='let'"}],"mark":{"type":"text","fontSize":14,"fontWeight":"bold"},"encoding":{"text":{"field":"t"}}}
]}
]}
